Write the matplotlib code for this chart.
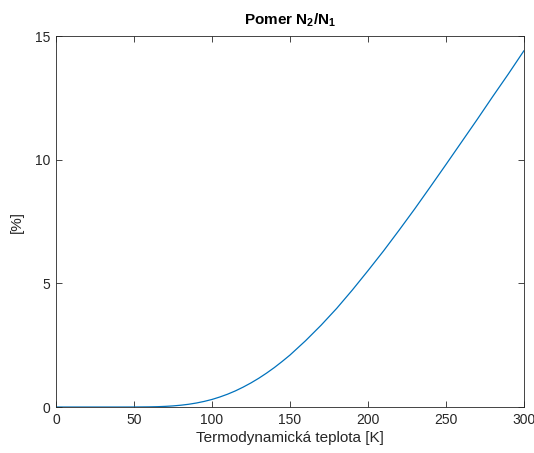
import matplotlib
matplotlib.use("Agg")
import matplotlib.pyplot as plt

# 設定
LINE_COLOR = "#0072bd"
AXIS_COLOR = "#262626"

plt.rcParams["font.family"] = ["Liberation Sans", "DejaVu Sans"]
plt.rcParams["mathtext.fontset"] = "custom"
plt.rcParams["mathtext.bf"] = "Liberation Sans:bold"
plt.rcParams["mathtext.rm"] = "Liberation Sans"
plt.rcParams["mathtext.default"] = "bf"

# temperature [K] and ratio N2/N1 [%]
temperature = [0, 10, 20, 30, 40, 50, 60, 65, 70, 75, 80, 85, 90, 95, 100,
               105, 110, 115, 120, 125, 130, 135, 140, 145, 150, 160, 170,
               180, 190, 200, 210, 220, 230, 240, 250, 260, 270, 280, 290, 300]
ratio = [0.0, 0.0, 0.0, 0.0, 0.0, 0.001, 0.0066, 0.0137, 0.026, 0.045, 0.073,
         0.111, 0.162, 0.227, 0.306, 0.405, 0.519, 0.652, 0.805, 0.975,
         1.163, 1.371, 1.596, 1.842, 2.10, 2.68, 3.31, 3.99, 4.73, 5.51,
         6.31, 7.15, 8.01, 8.90, 9.80, 10.71, 11.62, 12.55, 13.46, 14.40]

x_ticks = [0, 50, 100, 150, 200, 250, 300]
y_ticks = [0, 5, 10, 15]

fig = plt.figure(figsize=(5.34, 4.53), dpi=100)
ax = fig.add_axes([0.105, 0.1015, 0.876, 0.819])

ax.plot(temperature, ratio, color=LINE_COLOR, linewidth=0.9)

ax.set_xlim(0, 300)
ax.set_ylim(0, 15)
ax.set_xticks(x_ticks)
ax.set_yticks(y_ticks)
ax.tick_params(direction="in", top=True, right=True, length=4, width=0.6,
               colors=AXIS_COLOR, labelsize=10, pad=4)
for s in ax.spines.values():
    s.set_color(AXIS_COLOR)
    s.set_linewidth(0.6)

ax.set_xlabel("Termodynamická teplota [K]", fontsize=11, color=AXIS_COLOR, labelpad=3)
ax.set_ylabel("[%]", fontsize=11, color=AXIS_COLOR, labelpad=8)
ax.set_title(r"Pomer N$_2$/N$_1$", fontsize=11, fontweight="bold", pad=8)

plt.savefig("out.png", dpi=100)
plt.close()
